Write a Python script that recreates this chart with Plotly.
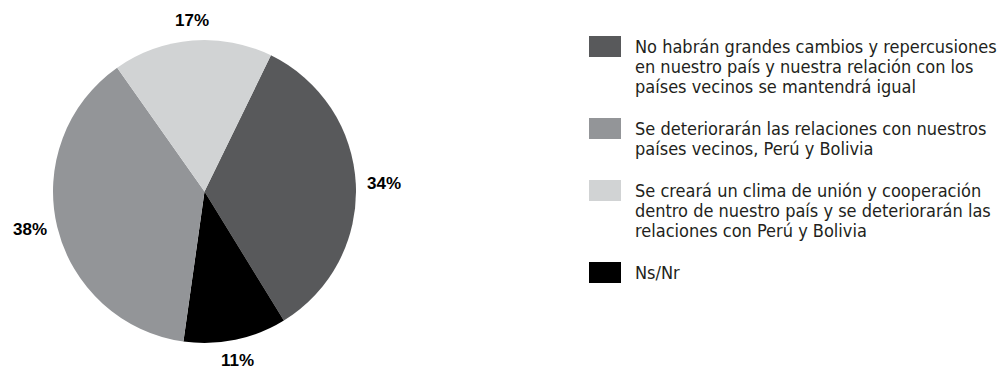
import math
import plotly.graph_objects as go

# legend order
categories = [
    "No habrán grandes cambios y repercusiones en nuestro país y nuestra relación con los países vecinos se mantendrá igual",
    "Se deteriorarán las relaciones con nuestros países vecinos, Perú y Bolivia",
    "Se creará un clima de unión y cooperación dentro de nuestro país y se deteriorarán las relaciones con Perú y Bolivia",
    "Ns/Nr",
]
legend_lines = [
    ["No habrán grandes cambios y repercusiones",
     "en nuestro país y nuestra relación con los",
     "países vecinos se mantendrá igual"],
    ["Se deteriorarán las relaciones con nuestros",
     "países vecinos, Perú y Bolivia"],
    ["Se creará un clima de unión y cooperación",
     "dentro de nuestro país y se deteriorarán las",
     "relaciones con Perú y Bolivia"],
    ["Ns/Nr"],
]
values = [34, 38, 17, 11]
colors = ["#58595b", "#939598", "#d1d3d4", "#000000"]
# slices clockwise from the top-right
slice_order = [0, 3, 1, 2]

W, H = 997, 371
FONT = "DejaVu Sans Condensed"
ROTATION = 26
PIE_X = [53, 356]
PIE_Y = [40, 343]

fig = go.Figure()
fig.add_trace(go.Pie(
    labels=[categories[i] for i in slice_order],
    values=[values[i] for i in slice_order],
    marker=dict(colors=[colors[i] for i in slice_order], line=dict(width=0)),
    sort=False,
    direction="clockwise",
    rotation=ROTATION,
    textinfo="none",
    showlegend=False,
    hoverinfo="label+percent",
    domain=dict(x=[PIE_X[0] / W, PIE_X[1] / W], y=[1 - PIE_Y[1] / H, 1 - PIE_Y[0] / H]),
))

annotations = []
shapes = []

# percentage labels just outside each slice
cx, cy = sum(PIE_X) / 2, sum(PIE_Y) / 2
r = (PIE_X[1] - PIE_X[0]) / 2
total = sum(values)
acc = 0
for i in slice_order:
    mid = math.radians(ROTATION + 360 * (acc + values[i] / 2) / total)
    acc += values[i]
    s, c = math.sin(mid), math.cos(mid)
    px = cx + (r + 9) * s
    py = cy - (r + 9) * c
    xa = "left" if s > 0.5 else ("right" if s < -0.5 else "center")
    ya = "bottom" if c > 0.5 else ("top" if c < -0.5 else "middle")
    annotations.append(dict(
        text=f"{values[i]}%", xref="paper", yref="paper",
        x=px / W, y=1 - py / H, xanchor=xa, yanchor=ya, showarrow=False,
        font=dict(family="Liberation Sans", size=17, color="#000000", weight="bold"),
    ))

# hand-drawn legend: big swatches, 20px line spacing
top = 36
for lines, col in zip(legend_lines, colors):
    shapes.append(dict(type="rect", xref="paper", yref="paper",
                       x0=589 / W, x1=621 / W, y0=1 - top / H, y1=1 - (top + 21) / H,
                       fillcolor=col, line=dict(width=0)))
    for k, line in enumerate(lines):
        annotations.append(dict(
            text=line, xref="paper", yref="paper",
            x=633 / W, y=1 - (top + 10.5 + 20 * k) / H,
            xanchor="left", yanchor="middle", showarrow=False,
            font=dict(family=FONT, size=18, color="#231f20"),
        ))
    top += 20 * len(lines) + 22

fig.update_layout(
    width=W, height=H,
    margin=dict(l=0, r=0, t=0, b=0),
    paper_bgcolor="white",
    plot_bgcolor="white",
    shapes=shapes,
    annotations=annotations,
)

fig.write_html("out.html", config={"displayModeBar": False},
               post_script="document.body.style.margin='0px';")
